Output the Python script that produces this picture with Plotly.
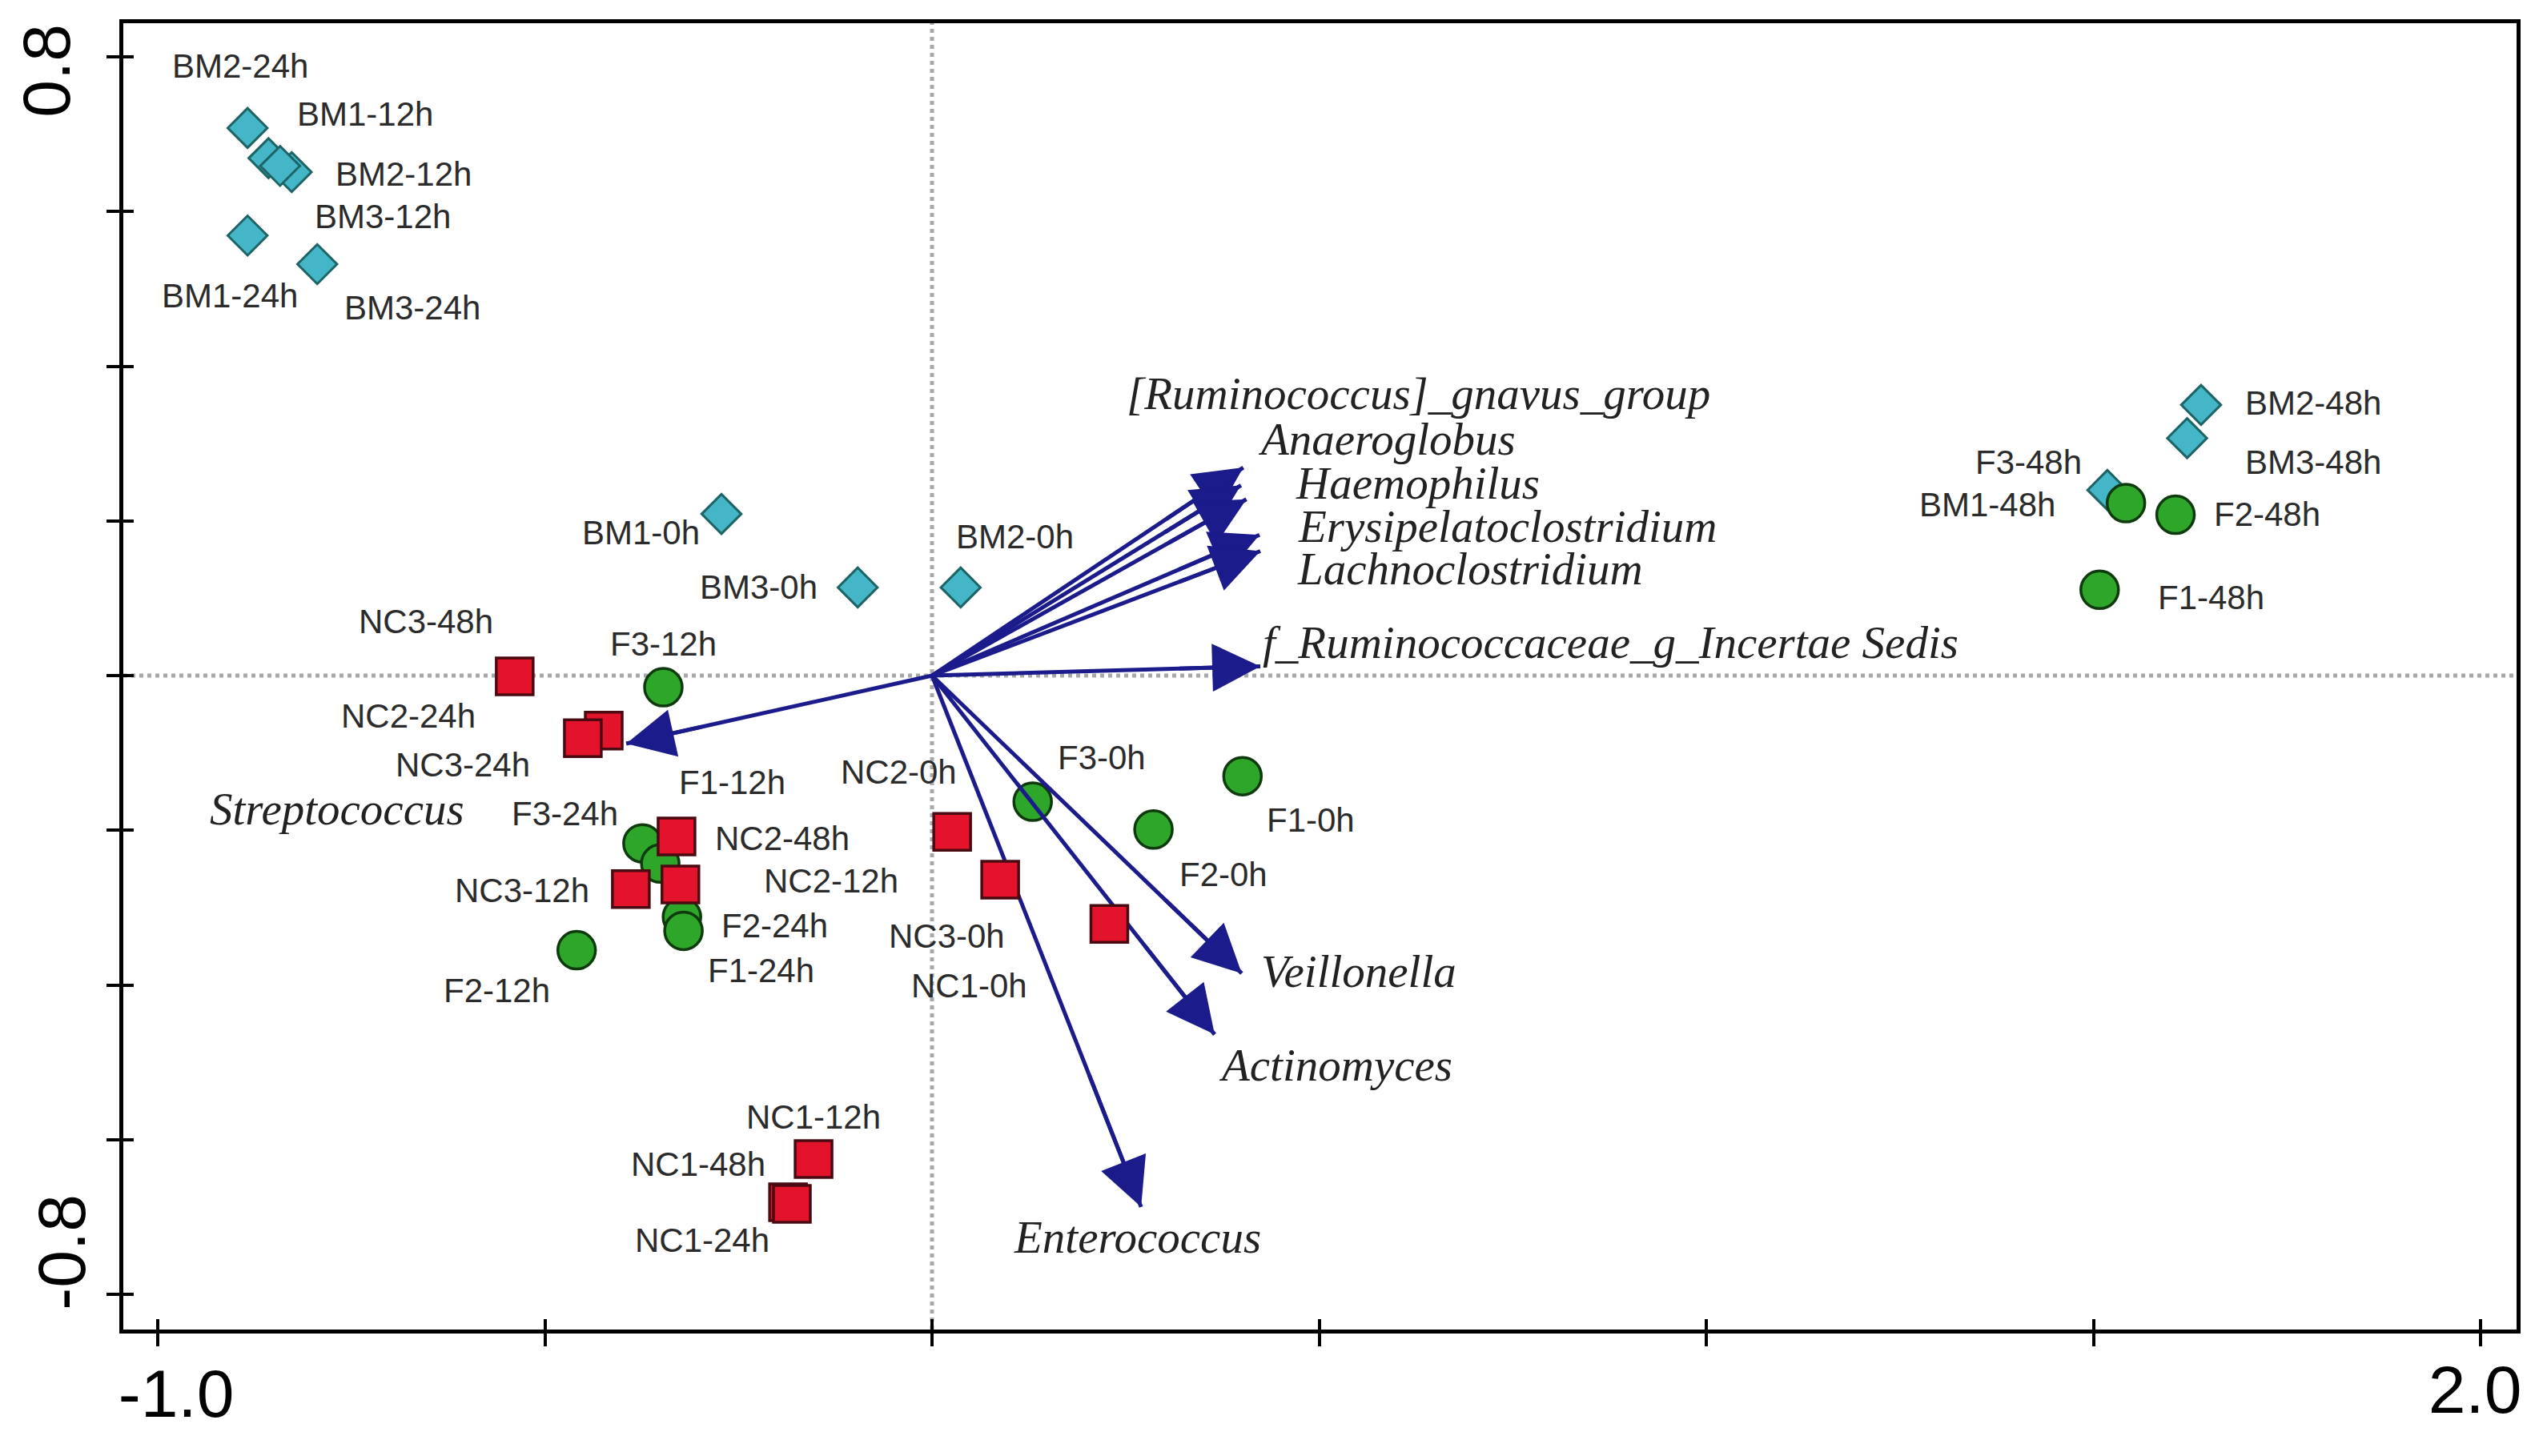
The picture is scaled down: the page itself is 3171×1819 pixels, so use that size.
import plotly.graph_objects as go

# ---- sample scores (axis 1, axis 2) ----
bm_names = ["BM2-24h", "BM1-12h", "BM2-12h", "BM3-12h", "BM1-24h", "BM3-24h",
            "BM1-0h", "BM3-0h", "BM2-0h", "BM2-48h", "BM3-48h", "BM1-48h"]
bm_x = [-0.884, -0.857, -0.827, -0.842, -0.884, -0.794,
        -0.272, -0.096, 0.037, 1.639, 1.621, 1.518]
bm_y = [0.708, 0.669, 0.651, 0.659, 0.569, 0.532,
        0.209, 0.114, 0.114, 0.350, 0.307, 0.240]

f_names = ["F3-12h", "F3-24h", "F1-12h", "F2-24h", "F1-24h", "F2-12h",
           "F3-0h", "F2-0h", "F1-0h", "F3-48h", "F2-48h", "F1-48h"]
f_x = [-0.347, -0.374, -0.351, -0.323, -0.321, -0.459,
       0.130, 0.286, 0.401, 1.542, 1.606, 1.508]
f_y = [-0.015, -0.217, -0.243, -0.312, -0.330, -0.355,
       -0.163, -0.199, -0.130, 0.223, 0.208, 0.111]

nc_names = ["NC3-48h", "NC2-24h", "NC3-24h", "NC2-48h", "NC3-12h", "NC2-12h",
            "NC2-0h", "NC3-0h", "NC1-0h", "NC1-12h", "NC1-48h", "NC1-24h"]
nc_x = [-0.539, -0.424, -0.451, -0.330, -0.389, -0.325,
        0.026, 0.088, 0.229, -0.153, -0.186, -0.181]
nc_y = [-0.001, -0.071, -0.081, -0.208, -0.276, -0.270,
        -0.202, -0.264, -0.321, -0.625, -0.681, -0.683]

# ---- species arrows ----
sp_names = ["[Ruminococcus]_gnavus_group", "Anaeroglobus", "Haemophilus",
            "Erysipelatoclostridium", "Lachnoclostridium",
            "f_Ruminococcaceae_g_Incertae Sedis", "Streptococcus",
            "Veillonella", "Actinomyces", "Enterococcus"]
sp_x = [0.402, 0.399, 0.406, 0.423, 0.424, 0.424, -0.395, 0.400, 0.365, 0.270]
sp_y = [0.269, 0.246, 0.228, 0.182, 0.161, 0.012, -0.088, -0.385, -0.464, -0.687]

# ---- axis ticks ----
x_ticks = [-1.0, -0.5, 0.0, 0.5, 1.0, 1.5, 2.0]
x_ticktext_low = ["-1.0", "", "", "", "", "", ""]
x_ticktext_high = ["", "", "", "", "", "", "2.0"]
y_ticks = [-0.8, -0.6, -0.4, -0.2, 0.0, 0.2, 0.4, 0.6, 0.8]
y_ticktext_high = ["", "", "", "", "", "", "", "", "0.8"]
y_ticktext_low = ["-0.8", "", "", "", "", "", "", "", ""]

X_RANGE = [-1.0445, 2.0465]
Y_RANGE = [-0.8455, 0.8435]

# label offsets in pixels (right, up) from each point
label_shift = {
    "BM2-24h": (-9, 77), "BM1-12h": (121, 55), "BM2-12h": (140, -2),
    "BM3-12h": (128, -63), "BM1-24h": (-22, -75), "BM3-24h": (119, -55),
    "BM1-0h": (-101, -23), "BM3-0h": (-124, 0), "BM2-0h": (68, 63),
    "BM2-48h": (140, 2), "BM3-48h": (157, -30), "BM1-48h": (-150, -18),
    "NC3-48h": (-111, 69), "NC2-24h": (-244, 18), "NC3-24h": (-150, -33),
    "NC2-48h": (132, -2), "NC3-12h": (-136, -2), "NC2-12h": (188, 4),
    "NC2-0h": (-67, 75), "NC3-0h": (-67, -70), "NC1-0h": (-175, -77),
    "NC1-12h": (0, 52), "NC1-48h": (-112, 48), "NC1-24h": (-112, -46),
    "F3-12h": (0, 54), "F3-24h": (-97, 37), "F1-12h": (90, 101),
    "F2-24h": (116, -11), "F1-24h": (97, -50), "F2-12h": (-100, -50),
    "F3-0h": (86, 55), "F2-0h": (87, -56), "F1-0h": (85, -55),
    "F3-48h": (-122, 51), "F2-48h": (114, 1), "F1-48h": (139, -10),
}
# species label placement: (xanchor, right, up)
sp_shift = {
    "[Ruminococcus]_gnavus_group": ("left", -148, 93),
    "Anaeroglobus": ("left", 19, 58),
    "Haemophilus": ("left", 59, 20),
    "Erysipelatoclostridium": ("left", 46, 11),
    "Lachnoclostridium": ("left", 44, -22),
    "f_Ruminococcaceae_g_Incertae Sedis": ("left", 1, 30),
    "Streptococcus": ("right", -200, -81),
    "Veillonella": ("left", 22, 3),
    "Actinomyces": ("left", 3, -38),
    "Enterococcus": ("left", -161, -38),
}

ARROW = "#1b1b8c"
LABEL_FONT = dict(family="Liberation Sans, Arial", size=42, color="#2b2b2b")
SP_FONT = dict(family="Liberation Serif, Times New Roman", size=57, color="#222222")
TICK_FONT = dict(family="Liberation Sans, Arial", size=84, color="black")

fig = go.Figure()

fig.add_trace(go.Scatter(
    x=bm_x, y=bm_y, mode="markers", showlegend=False, hoverinfo="skip",
    marker=dict(symbol="diamond", size=38, color="#44b6c8",
                line=dict(color="#1d6464", width=3))))
fig.add_trace(go.Scatter(
    x=f_x, y=f_y, mode="markers", showlegend=False, hoverinfo="skip",
    marker=dict(symbol="circle", size=47, color="#2ea62a",
                line=dict(color="#0e3a0e", width=3.5))))

# arrow shafts
shaft_x, shaft_y = [], []
for sx, sy in zip(sp_x, sp_y):
    shaft_x += [0, sx, None]
    shaft_y += [0, sy, None]
fig.add_trace(go.Scatter(x=shaft_x, y=shaft_y, mode="lines", showlegend=False,
                         hoverinfo="skip", line=dict(color=ARROW, width=5)))

fig.add_trace(go.Scatter(
    x=nc_x, y=nc_y, mode="markers", showlegend=False, hoverinfo="skip",
    marker=dict(symbol="square", size=46, color="#e3132b",
                line=dict(color="#4a0a12", width=3.5))))

# empty trace to carry the second (inner tick) axes
fig.add_trace(go.Scatter(x=[], y=[], xaxis="x2", yaxis="y2", showlegend=False))

ann = []
for name, sx, sy in zip(sp_names, sp_x, sp_y):
    ann.append(dict(x=sx, y=sy, ax=sx * 0.75, ay=sy * 0.75, xref="x", yref="y",
                    axref="x", ayref="y", showarrow=True, text="",
                    arrowhead=2, arrowsize=2.4, arrowwidth=5, arrowcolor=ARROW))
    anchor, dx, dy = sp_shift[name]
    ann.append(dict(x=sx, y=sy, xref="x", yref="y", showarrow=False,
                    text="<i>" + name + "</i>", font=SP_FONT,
                    xanchor=anchor, yanchor="middle", xshift=dx, yshift=dy))

for names, xs, ys in [(bm_names, bm_x, bm_y), (f_names, f_x, f_y), (nc_names, nc_x, nc_y)]:
    for name, px, py in zip(names, xs, ys):
        dx, dy = label_shift[name]
        ann.append(dict(x=px, y=py, xref="x", yref="y", showarrow=False,
                        text=name, font=LABEL_FONT, xanchor="center",
                        yanchor="middle", xshift=dx, yshift=dy))

axis_common = dict(showgrid=False, zeroline=False, showline=True, linewidth=5,
                   linecolor="black", mirror=True, ticks="outside", ticklen=16,
                   tickwidth=4, tickcolor="black", automargin=False,
                   ticklabeloverflow="allow", tickfont=TICK_FONT)
inner_common = dict(showgrid=False, zeroline=False, showline=False, ticks="inside",
                    ticklen=13, tickwidth=4, tickcolor="black", automargin=False,
                    ticklabeloverflow="allow", tickfont=TICK_FONT)

# page body adds an 8 px margin, so the figure is a bit smaller than the window
fig.update_layout(
    width=3155, height=1803,
    margin=dict(l=146, r=20, t=21, b=150),
    paper_bgcolor="white", plot_bgcolor="white",
    xaxis=dict(range=X_RANGE, tickvals=x_ticks, ticktext=x_ticktext_low,
               ticklabelstandoff=-13, ticklabelshift=23, **axis_common),
    yaxis=dict(range=Y_RANGE, tickvals=y_ticks, ticktext=y_ticktext_high,
               tickangle=-90, ticklabelstandoff=12, ticklabelshift=30,
               **axis_common),
    xaxis2=dict(range=X_RANGE, tickvals=x_ticks, ticktext=x_ticktext_high,
                overlaying="x", anchor="y2", side="bottom",
                ticklabelstandoff=19, ticklabelshift=-7, **inner_common),
    yaxis2=dict(range=Y_RANGE, tickvals=y_ticks, ticktext=y_ticktext_low,
                overlaying="y", anchor="x2", side="left", tickangle=-90,
                ticklabelstandoff=30, ticklabelshift=-40, **inner_common),
    annotations=ann,
    shapes=[
        dict(type="line", xref="x", yref="paper", x0=0, x1=0, y0=0, y1=1,
             line=dict(color="#a8a8a8", width=5, dash="dot"), layer="below"),
        dict(type="line", xref="paper", yref="y", x0=0, x1=1, y0=0, y1=0,
             line=dict(color="#a8a8a8", width=5, dash="dot"), layer="below"),
    ],
)

fig.write_html("out.html")
